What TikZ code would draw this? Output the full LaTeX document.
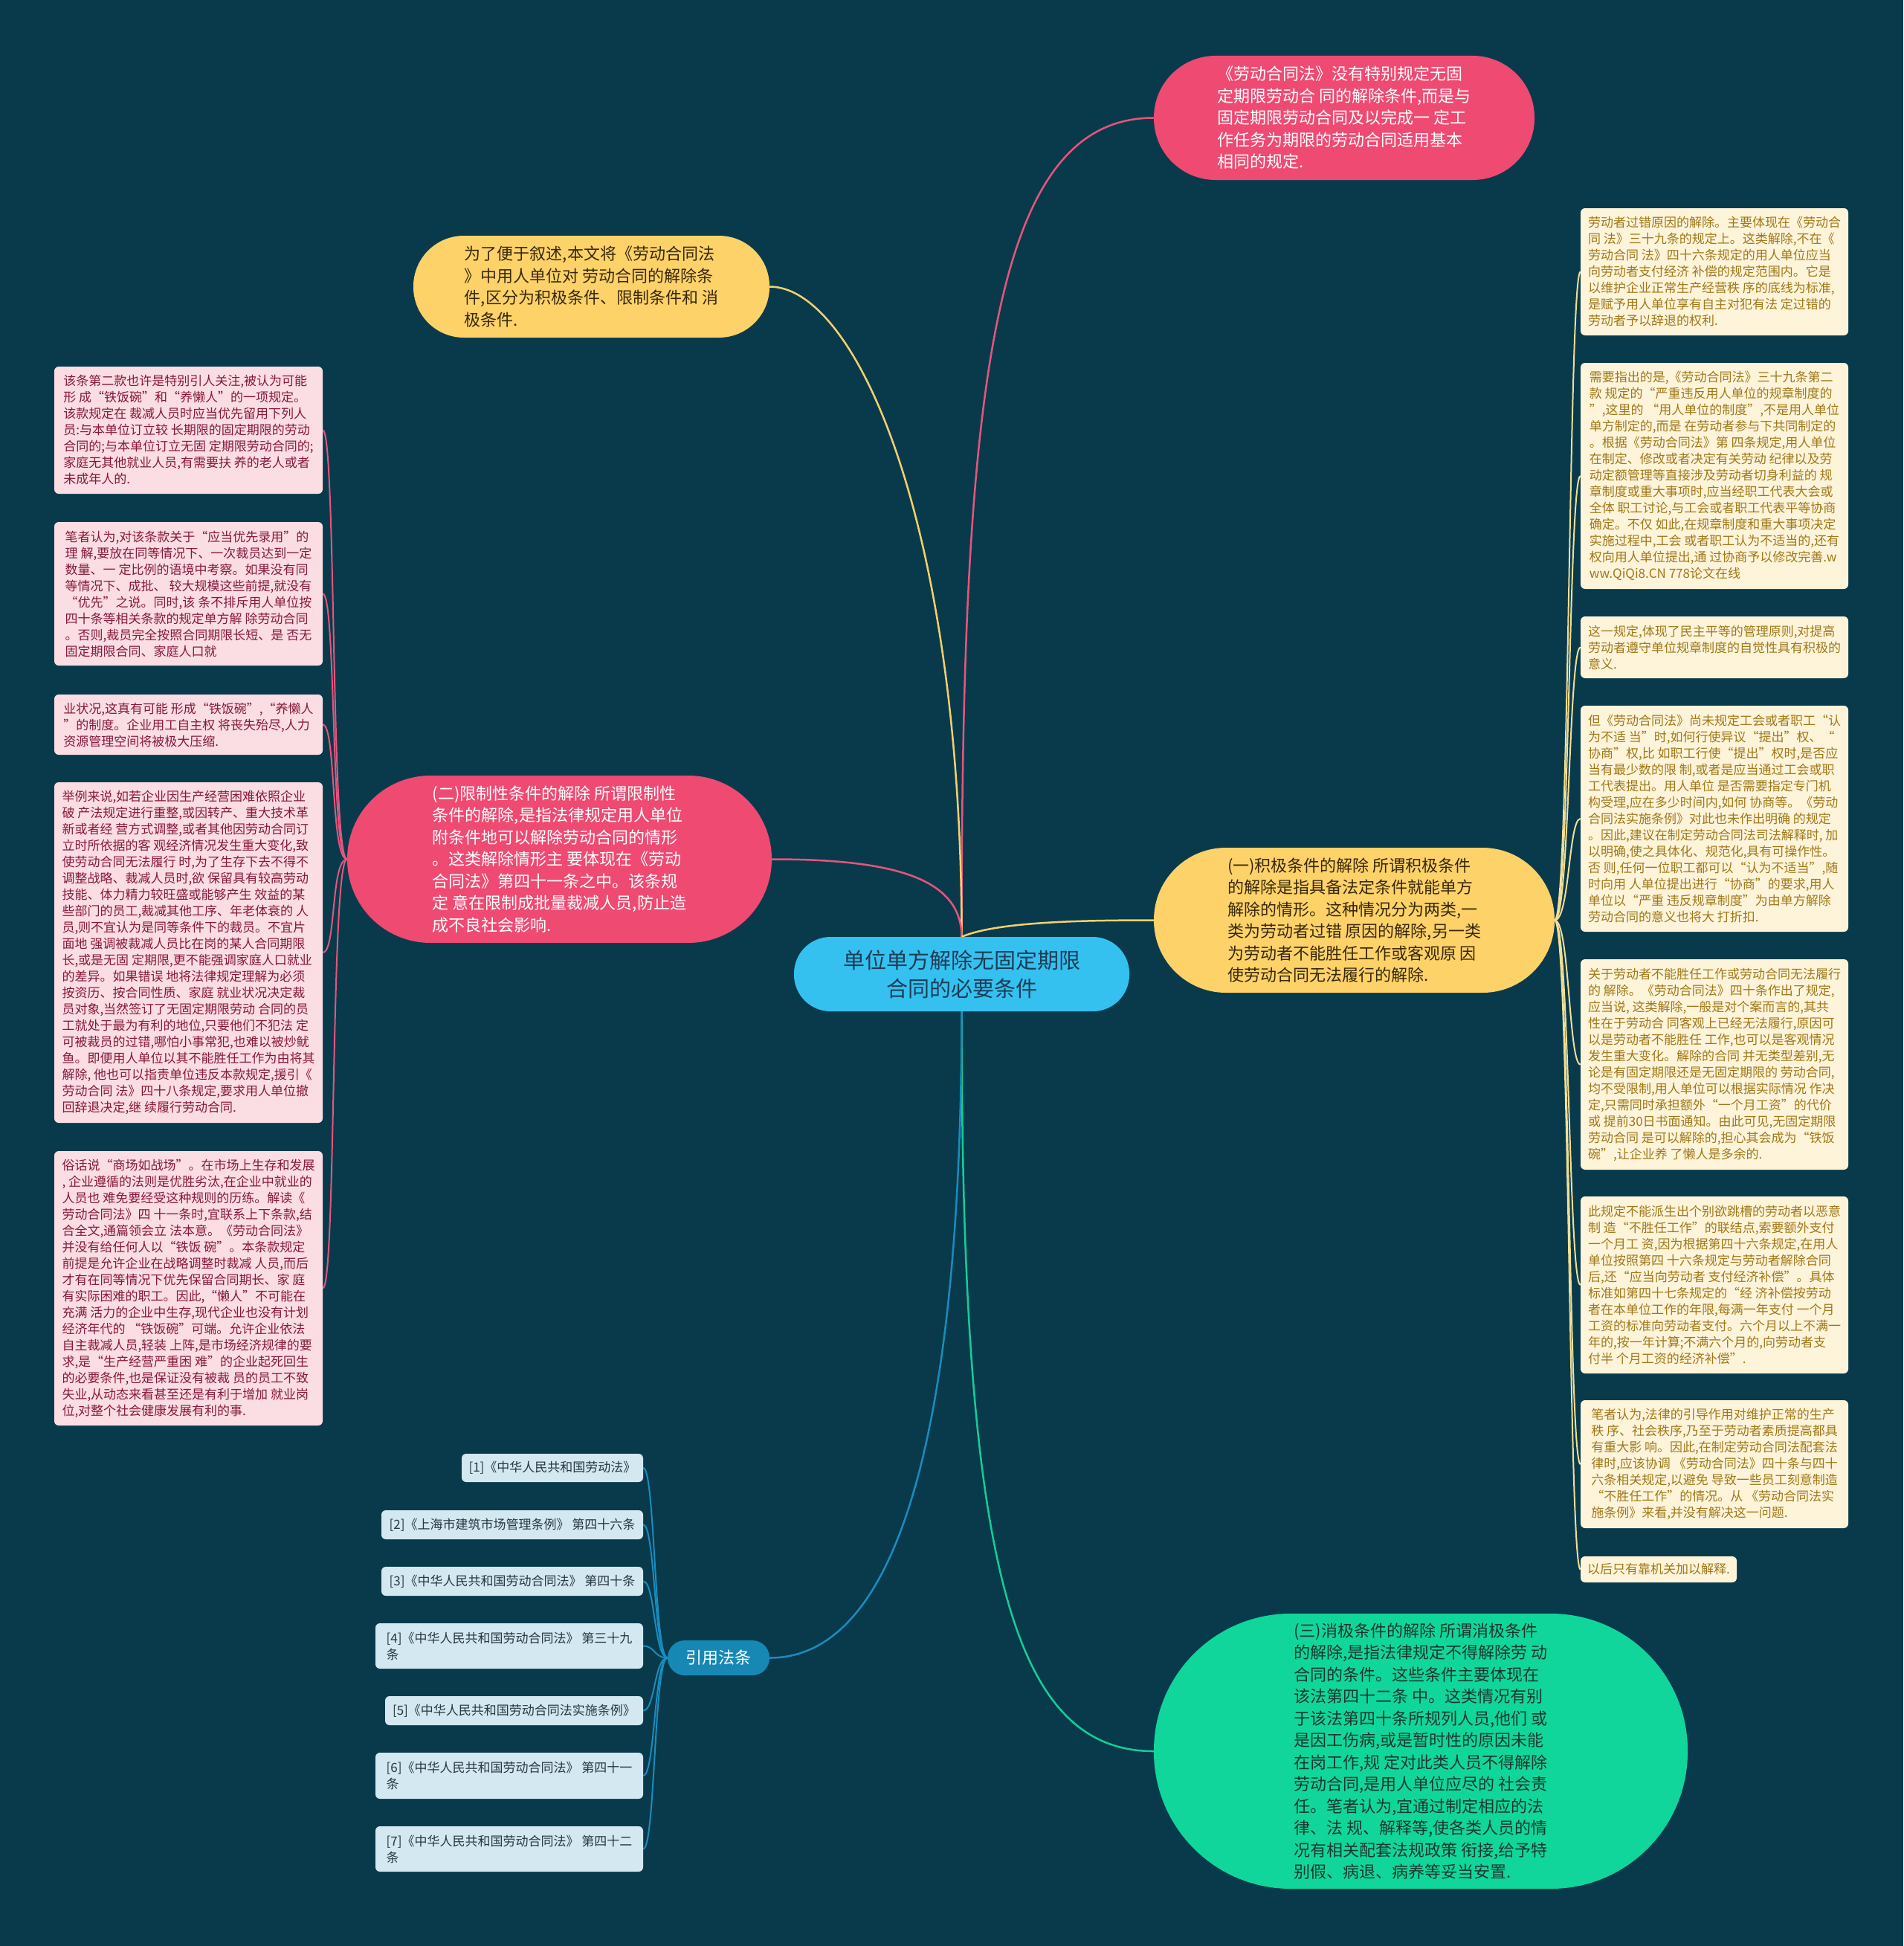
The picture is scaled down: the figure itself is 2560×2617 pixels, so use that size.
\documentclass[tikz,border=0pt]{standalone}
\usepackage{fontspec}
\setmainfont{Noto Sans CJK SC}
\usetikzlibrary{calc}
\pgfdeclarelayer{background}
\pgfsetlayers{background,main}
\definecolor{bgc}{RGB}{9,58,76}
\definecolor{rootfill}{RGB}{52,193,240}
\definecolor{roottext}{RGB}{30,60,85}
\definecolor{pinkfill}{RGB}{238,74,114}
\definecolor{yellowfill}{RGB}{253,210,105}
\definecolor{yellowtext}{RGB}{55,40,10}
\definecolor{greenfill}{RGB}{16,214,155}
\definecolor{greentext}{RGB}{25,55,45}
\definecolor{citefill}{RGB}{23,136,180}
\definecolor{lnotefill}{RGB}{251,221,228}
\definecolor{lnotetext}{RGB}{135,25,60}
\definecolor{rnotefill}{RGB}{253,244,218}
\definecolor{rnotetext}{RGB}{160,120,25}
\definecolor{cboxfill}{RGB}{211,232,241}
\definecolor{cboxtext}{RGB}{40,55,65}
\definecolor{plinec}{RGB}{230,85,125}
\definecolor{ylinec}{RGB}{246,208,110}
\definecolor{rlinec}{RGB}{240,222,150}
\definecolor{glinec}{RGB}{20,205,150}
\definecolor{blinec}{RGB}{25,140,190}
\begin{document}
\begin{tikzpicture}[x=1pt,y=-1pt,
  mainnode/.style={align=left,inner xsep=0pt,inner ysep=0pt,font=\fontsize{22pt}{29.5pt}\selectfont},
  lnote/.style={fill=lnotefill,text=lnotetext,rounded corners=6pt,minimum width=361pt,align=left,inner xsep=0pt,inner ysep=0pt,font=\fontsize{17pt}{22pt}\selectfont},
  rnote/.style={fill=rnotefill,text=rnotetext,rounded corners=6pt,minimum width=360pt,align=left,inner xsep=0pt,inner ysep=0pt,font=\fontsize{17pt}{22pt}\selectfont},
  cbox/.style={fill=cboxfill,text=cboxtext,rounded corners=6pt,align=left,inner xsep=0pt,inner ysep=0pt,font=\fontsize{17pt}{22pt}\selectfont},
  plink/.style={draw=plinec,line width=2.5pt},
  ylink/.style={draw=ylinec,line width=2.5pt},
  glink/.style={draw=glinec,line width=2.5pt},
  blink/.style={draw=blinec,line width=2.5pt},
  lnlink/.style={draw=plinec,line width=2pt},
  rnlink/.style={draw=rlinec,line width=2pt},
  cblink/.style={draw=blinec,line width=2pt}
]
\useasboundingbox (0,0) rectangle (2560,2617);

% central node
\node[fill=rootfill,text=roottext,rounded corners=49pt,minimum width=451pt,minimum height=100pt,align=center,inner sep=0pt,font=\fontsize{29pt}{38pt}\selectfont] (root) at (1293.5,1310) {单位单方解除无固定期限\\合同的必要条件};

% main branches
\node[mainnode,fill=pinkfill,text=white,rounded corners=83pt,minimum width=512pt,minimum height=167pt] (top) at (1808,158.5) {《劳动合同法》没有特别规定无固\\定期限劳动合 同的解除条件,而是与\\固定期限劳动合同及以完成一 定工\\作任务为期限的劳动合同适用基本\\相同的规定.};

\node[mainnode,fill=yellowfill,text=yellowtext,rounded corners=68pt,minimum width=479pt,minimum height=137pt] (ly) at (795.5,385.5) {为了便于叙述,本文将《劳动合同法\\》中用人单位对 劳动合同的解除条\\件,区分为积极条件、限制条件和 消\\极条件.};

\node[mainnode,fill=pinkfill,text=white,rounded corners=112pt,minimum width=571pt,minimum height=225pt] (two) at (752.5,1155.5) {(二)限制性条件的解除 所谓限制性\\条件的解除,是指法律规定用人单位\\附条件地可以解除劳动合同的情形\\。这类解除情形主 要体现在《劳动\\合同法》第四十一条之中。该条规\\定 意在限制成批量裁减人员,防止造\\成不良社会影响.};

\node[mainnode,fill=yellowfill,text=yellowtext,rounded corners=97pt,minimum width=539pt,minimum height=195pt] (one) at (1821.5,1237.5) {(一)积极条件的解除 所谓积极条件\\的解除是指具备法定条件就能单方\\解除的情形。这种情况分为两类,一\\类为劳动者过错 原因的解除,另一类\\为劳动者不能胜任工作或客观原 因\\使劳动合同无法履行的解除.};

\node[mainnode,fill=greenfill,text=greentext,rounded corners=184pt,minimum width=718pt,minimum height=370pt] (three) at (1911,2355) {(三)消极条件的解除 所谓消极条件\\的解除,是指法律规定不得解除劳 动\\合同的条件。这些条件主要体现在\\该法第四十二条 中。这类情况有别\\于该法第四十条所规列人员,他们 或\\是因工伤病,或是暂时性的原因未能\\在岗工作,规 定对此类人员不得解除\\劳动合同,是用人单位应尽的 社会责\\任。笔者认为,宜通过制定相应的法\\律、法 规、解释等,使各类人员的情\\况有相关配套法规政策 衔接,给予特\\别假、病退、病养等妥当安置.};

\node[fill=citefill,text=white,rounded corners=23pt,minimum width=137pt,minimum height=47pt,inner sep=0pt,font=\fontsize{22pt}{26pt}\selectfont] (cite) at (966.5,2229.5) {引用法条};

% left notes
\node[lnote,minimum height=171pt] (l1) at (253.5,578.5) {该条第二款也许是特别引人关注,被认为可能\\形 成“铁饭碗”和“养懒人”的一项规定。\\该款规定在 裁减人员时应当优先留用下列人\\员:与本单位订立较 长期限的固定期限的劳动\\合同的;与本单位订立无固 定期限劳动合同的;\\家庭无其他就业人员,有需要扶 养的老人或者\\未成年人的.};

\node[lnote,minimum height=193pt] (l2) at (253.5,798.5) {笔者认为,对该条款关于“应当优先录用”的\\理 解,要放在同等情况下、一次裁员达到一定\\数量、一 定比例的语境中考察。如果没有同\\等情况下、成批、 较大规模这些前提,就没有\\“优先”之说。同时,该 条不排斥用人单位按\\四十条等相关条款的规定单方解 除劳动合同\\。否则,裁员完全按照合同期限长短、是 否无\\固定期限合同、家庭人口就};

\node[lnote,minimum height=81pt] (l3) at (253.5,974.5) {业状况,这真有可能 形成“铁饭碗”,“养懒人\\”的制度。企业用工自主权 将丧失殆尽,人力\\资源管理空间将被极大压缩.};

\node[lnote,minimum height=458pt] (l4) at (253.5,1281) {举例来说,如若企业因生产经营困难依照企业\\破 产法规定进行重整,或因转产、重大技术革\\新或者经 营方式调整,或者其他因劳动合同订\\立时所依据的客 观经济情况发生重大变化,致\\使劳动合同无法履行 时,为了生存下去不得不\\调整战略、裁减人员时,欲 保留具有较高劳动\\技能、体力精力较旺盛或能够产生 效益的某\\些部门的员工,裁减其他工序、年老体衰的 人\\员,则不宜认为是同等条件下的裁员。不宜片\\面地 强调被裁减人员比在岗的某人合同期限\\长,或是无固 定期限,更不能强调家庭人口就业\\的差异。如果错误 地将法律规定理解为必须\\按资历、按合同性质、家庭 就业状况决定裁\\员对象,当然签订了无固定期限劳动 合同的员\\工就处于最为有利的地位,只要他们不犯法 定\\可被裁员的过错,哪怕小事常犯,也难以被炒鱿\\鱼。即便用人单位以其不能胜任工作为由将其\\解除, 他也可以指责单位违反本款规定,援引《\\劳动合同 法》四十八条规定,要求用人单位撤\\回辞退决定,继 续履行劳动合同.};

\node[lnote,minimum height=369pt] (l5) at (253.5,1732.5) {俗话说“商场如战场”。在市场上生存和发展\\, 企业遵循的法则是优胜劣汰,在企业中就业的\\人员也 难免要经受这种规则的历练。解读《\\劳动合同法》四 十一条时,宜联系上下条款,结\\合全文,通篇领会立 法本意。《劳动合同法》\\并没有给任何人以“铁饭 碗”。本条款规定\\前提是允许企业在战略调整时裁减 人员,而后\\才有在同等情况下优先保留合同期长、家 庭\\有实际困难的职工。因此,“懒人”不可能在\\充满 活力的企业中生存,现代企业也没有计划\\经济年代的 “铁饭碗”可端。允许企业依法\\自主裁减人员,轻装 上阵,是市场经济规律的要\\求,是“生产经营严重困 难”的企业起死回生\\的必要条件,也是保证没有被裁 员的员工不致\\失业,从动态来看甚至还是有利于增加 就业岗\\位,对整个社会健康发展有利的事.};

% right notes
\node[rnote,minimum height=171pt] (r1) at (2306,365.5) {劳动者过错原因的解除。主要体现在《劳动合\\同 法》三十九条的规定上。这类解除,不在《\\劳动合同 法》四十六条规定的用人单位应当\\向劳动者支付经济 补偿的规定范围内。它是\\以维护企业正常生产经营秩 序的底线为标准,\\是赋予用人单位享有自主对犯有法 定过错的\\劳动者予以辞退的权利.};

\node[rnote,minimum height=304pt] (r2) at (2306,640) {需要指出的是,《劳动合同法》三十九条第二\\款 规定的“严重违反用人单位的规章制度的\\”,这里的 “用人单位的制度”,不是用人单位\\单方制定的,而是 在劳动者参与下共同制定的\\。根据《劳动合同法》第 四条规定,用人单位\\在制定、修改或者决定有关劳动 纪律以及劳\\动定额管理等直接涉及劳动者切身利益的 规\\章制度或重大事项时,应当经职工代表大会或\\全体 职工讨论,与工会或者职工代表平等协商\\确定。不仅 如此,在规章制度和重大事项决定\\实施过程中,工会 或者职工认为不适当的,还有\\权向用人单位提出,通 过协商予以修改完善.w\\ww.QiQi8.CN 778论文在线};

\node[rnote,minimum height=83pt] (r3) at (2306,870.5) {这一规定,体现了民主平等的管理原则,对提高\\劳动者遵守单位规章制度的自觉性具有积极的\\意义.};

\node[rnote,minimum height=304pt] (r4) at (2306,1101) {但《劳动合同法》尚未规定工会或者职工“认\\为不适 当”时,如何行使异议“提出”权、“\\协商”权,比 如职工行使“提出”权时,是否应\\当有最少数的限 制,或者是应当通过工会或职\\工代表提出。用人单位 是否需要指定专门机\\构受理,应在多少时间内,如何 协商等。《劳动\\合同法实施条例》对此也未作出明确 的规定\\。因此,建议在制定劳动合同法司法解释时, 加\\以明确,使之具体化、规范化,具有可操作性。\\否 则,任何一位职工都可以“认为不适当”,随\\时向用 人单位提出进行“协商”的要求,用人\\单位以“严重 违反规章制度”为由单方解除\\劳动合同的意义也将大 打折扣.};

\node[rnote,minimum height=283pt] (r5) at (2306,1431.5) {关于劳动者不能胜任工作或劳动合同无法履行\\的 解除。《劳动合同法》四十条作出了规定,\\应当说, 这类解除,一般是对个案而言的,其共\\性在于劳动合 同客观上已经无法履行,原因可\\以是劳动者不能胜任 工作,也可以是客观情况\\发生重大变化。解除的合同 并无类型差别,无\\论是有固定期限还是无固定期限的 劳动合同,\\均不受限制,用人单位可以根据实际情况 作决\\定,只需同时承担额外“一个月工资”的代价\\或 提前30日书面通知。由此可见,无固定期限\\劳动合同 是可以解除的,担心其会成为“铁饭\\碗”,让企业养 了懒人是多余的.};

\node[rnote,minimum height=238pt] (r6) at (2306,1728) {此规定不能派生出个别欲跳槽的劳动者以恶意\\制 造“不胜任工作”的联结点,索要额外支付\\一个月工 资,因为根据第四十六条规定,在用人\\单位按照第四 十六条规定与劳动者解除合同\\后,还“应当向劳动者 支付经济补偿”。具体\\标准如第四十七条规定的“经 济补偿按劳动\\者在本单位工作的年限,每满一年支付 一个月\\工资的标准向劳动者支付。六个月以上不满一\\年的,按一年计算;不满六个月的,向劳动者支\\付半 个月工资的经济补偿”.};

\node[rnote,minimum height=172pt] (r7) at (2306,1969) {笔者认为,法律的引导作用对维护正常的生产\\秩 序、社会秩序,乃至于劳动者素质提高都具\\有重大影 响。因此,在制定劳动合同法配套法\\律时,应该协调 《劳动合同法》四十条与四十\\六条相关规定,以避免 导致一些员工刻意制造\\“不胜任工作”的情况。从 《劳动合同法实\\施条例》来看,并没有解决这一问题.};

\node[rnote,minimum width=210pt,minimum height=35pt] (r8) at (2231,2110.5) {以后只有靠机关加以解释.};

% citations
\node[cbox,minimum width=244pt,minimum height=38pt] (c1) at (743,1974) {[1]《中华人民共和国劳动法》};
\node[cbox,minimum width=352pt,minimum height=39pt] (c2) at (689,2050.5) {[2]《上海市建筑市场管理条例》 第四十六条};
\node[cbox,minimum width=352pt,minimum height=39pt] (c3) at (689,2126.5) {[3]《中华人民共和国劳动合同法》 第四十条};
\node[cbox,minimum width=360pt,minimum height=61pt] (c4) at (685,2213.5) {[4]《中华人民共和国劳动合同法》 第三十九\\条\hspace*{300pt}};
\node[cbox,minimum width=347pt,minimum height=39pt] (c5) at (691.5,2300.5) {[5]《中华人民共和国劳动合同法实施条例》};
\node[cbox,minimum width=360pt,minimum height=62pt] (c6) at (685,2388) {[6]《中华人民共和国劳动合同法》 第四十一\\条\hspace*{300pt}};
\node[cbox,minimum width=360pt,minimum height=61pt] (c7) at (685,2486.5) {[7]《中华人民共和国劳动合同法》 第四十二\\条\hspace*{300pt}};

\begin{pgfonlayer}{background}
\fill[bgc] (0,0) rectangle (2560,2617);
% main connectors
\draw[plink] (root.north) .. controls (1293,500) and (1340,158.5) .. (top.west);
\draw[ylink] (root.north) .. controls (1293,700) and (1150,385.5) .. (ly.east);
\draw[plink] (root.north) .. controls (1293,1180) and (1200,1155.5) .. (two.east);
\draw[ylink] (root.north) .. controls (1340,1240) and (1450,1237.5) .. (one.west);
\draw[glink] (root.south) .. controls (1293,2100) and (1360,2355) .. (three.west);
\draw[blink] (root.south) .. controls (1293,1950) and (1200,2229.5) .. (cite.east);
% note connectors
\foreach \n in {l1,l2,l3,l4,l5}
  \draw[lnlink] (two.west) .. controls +(-22,0) and +(18,0) .. (\n.east);
\foreach \n in {r1,r2,r3,r4,r5,r6,r7,r8}
  \draw[rnlink] (one.east) .. controls +(20,0) and +(-16,0) .. (\n.west);
\foreach \n in {c1,c2,c3,c4,c5,c6,c7}
  \draw[cblink] (cite.west) .. controls +(-18,0) and +(16,0) .. (\n.east);
\end{pgfonlayer}
\end{tikzpicture}
\end{document}
